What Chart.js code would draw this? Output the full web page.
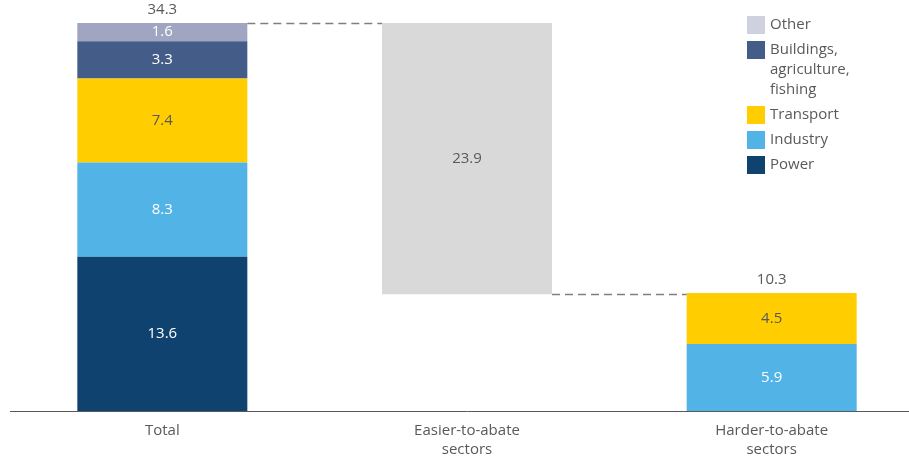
<!DOCTYPE html>
<html>
<head>
<meta charset="utf-8">
<script src="https://cdn.jsdelivr.net/npm/chart.js@4"></script>
<style>
  body { margin: 0; background: #fff; overflow: hidden; }
</style>
</head>
<body>
<canvas id="myChart" width="924" height="461"></canvas>
<script>
// setup
const categories = ['Total', ['Easier-to-abate', 'sectors'], ['Harder-to-abate', 'sectors']];
const power = [13.6, null, 0];
const industry = [8.3, null, 5.9];
const transport = [7.4, null, 4.5];
const buildings = [3.3, null, 0];
const other = [1.6, null, 0];
const easier = [null, 23.9, null];
const totals = [34.3, null, 10.3];

const gray = '#595959';
const fontFam = "'Open Sans', sans-serif";

// invisible base so the easier bar floats above the harder total
const base = [null, totals[2], null];

const legendItems = [
  { lines: ['Other'], color: '#cfd1e1' },
  { lines: ['Buildings,', 'agriculture,', 'fishing'], color: '#435d88' },
  { lines: ['Transport'], color: '#ffcd00' },
  { lines: ['Industry'], color: '#51b3e6' },
  { lines: ['Power'], color: '#0f426e' },
];

const data = {
  labels: categories,
  datasets: [
    { label: 'Power', data: power, backgroundColor: '#0f426e', textColor: '#ffffff' },
    { label: 'Industry', data: industry, backgroundColor: '#51b3e6', textColor: '#ffffff' },
    { label: 'Transport', data: transport, backgroundColor: '#ffcd00', textColor: gray },
    { label: 'Buildings, agriculture, fishing', data: buildings, backgroundColor: '#435d88', textColor: '#ffffff' },
    { label: 'Other', data: other, backgroundColor: '#a0a5c2', textColor: '#ffffff' },
    { label: 'base', data: base, backgroundColor: 'rgba(0,0,0,0)' },
    { label: 'Easier-to-abate', data: easier, backgroundColor: '#d9d9d9', textColor: gray },
  ]
};

// values inside the bars, totals above, dashed connectors
const barText = {
  id: 'barText',
  afterDatasetsDraw(chart) {
    const { ctx, scales: { x, y } } = chart;
    ctx.save();
    ctx.font = '15px ' + fontFam;
    ctx.textAlign = 'center';
    ctx.textBaseline = 'middle';
    chart.data.datasets.forEach((ds, i) => {
      if (!ds.textColor) return;
      chart.getDatasetMeta(i).data.forEach((bar, j) => {
        const v = ds.data[j];
        if (!v) return;
        ctx.fillStyle = ds.textColor;
        ctx.fillText(v.toFixed(1), bar.x, (bar.y + bar.base) / 2);
      });
    });
    // stack tops
    const sums = categories.map((c, j) => chart.data.datasets.reduce((s, ds) => s + (ds.data[j] || 0), 0));
    ctx.fillStyle = gray;
    totals.forEach((t, j) => {
      if (t == null) return;
      ctx.fillText(t.toFixed(1), x.getPixelForValue(j), y.getPixelForValue(sums[j]) - 13);
    });
    // connectors
    const pw = chart.getDatasetMeta(0).data;
    const ez = chart.getDatasetMeta(6).data[1];
    ctx.strokeStyle = '#7f7f7f';
    ctx.lineWidth = 1.5;
    ctx.setLineDash([8, 5]);
    ctx.beginPath();
    const yTop = Math.round(y.getPixelForValue(sums[1])) + 0.5;
    ctx.moveTo(pw[0].x + pw[0].width / 2, yTop);
    ctx.lineTo(ez.x - ez.width / 2, yTop);
    const yLow = Math.round(y.getPixelForValue(base[1])) + 0.5;
    ctx.moveTo(ez.x + ez.width / 2, yLow);
    ctx.lineTo(pw[2].x - pw[2].width / 2, yLow);
    ctx.stroke();
    ctx.restore();
  }
};

const sideLegend = {
  id: 'sideLegend',
  afterDraw(chart) {
    const { ctx } = chart;
    ctx.save();
    ctx.font = '15px ' + fontFam;
    ctx.textAlign = 'left';
    ctx.textBaseline = 'middle';
    let cy = 25;
    legendItems.forEach(item => {
      ctx.fillStyle = item.color;
      ctx.fillRect(747, cy - 9, 18, 18);
      ctx.fillStyle = gray;
      item.lines.forEach((ln, k) => {
        ctx.fillText(ln, 770, cy + k * 20);
      });
      cy += 25 + (item.lines.length - 1) * 20;
    });
    ctx.restore();
  }
};

// config
const config = {
  type: 'bar',
  data,
  options: {
    responsive: false,
    animation: false,
    layout: { padding: { left: 10, top: 23, right: 0, bottom: 0 } },
    categoryPercentage: 1,
    barPercentage: 0.558,
    plugins: {
      legend: { display: false },
      tooltip: { enabled: false }
    },
    scales: {
      x: {
        stacked: true,
        grid: { display: false, drawTicks: false },
        border: { display: true, color: gray, width: 1 },
        ticks: {
          color: gray,
          padding: 10,
          font: { family: fontFam, size: 15, lineHeight: 1.27 }
        },
        afterFit(scale) { scale.height = 50; }
      },
      y: {
        stacked: true,
        display: false,
        min: 0,
        max: 34.2
      }
    }
  },
  plugins: [barText, sideLegend]
};

// render init block
const myChart = new Chart(document.getElementById('myChart'), config);
</script>
</body>
</html>
